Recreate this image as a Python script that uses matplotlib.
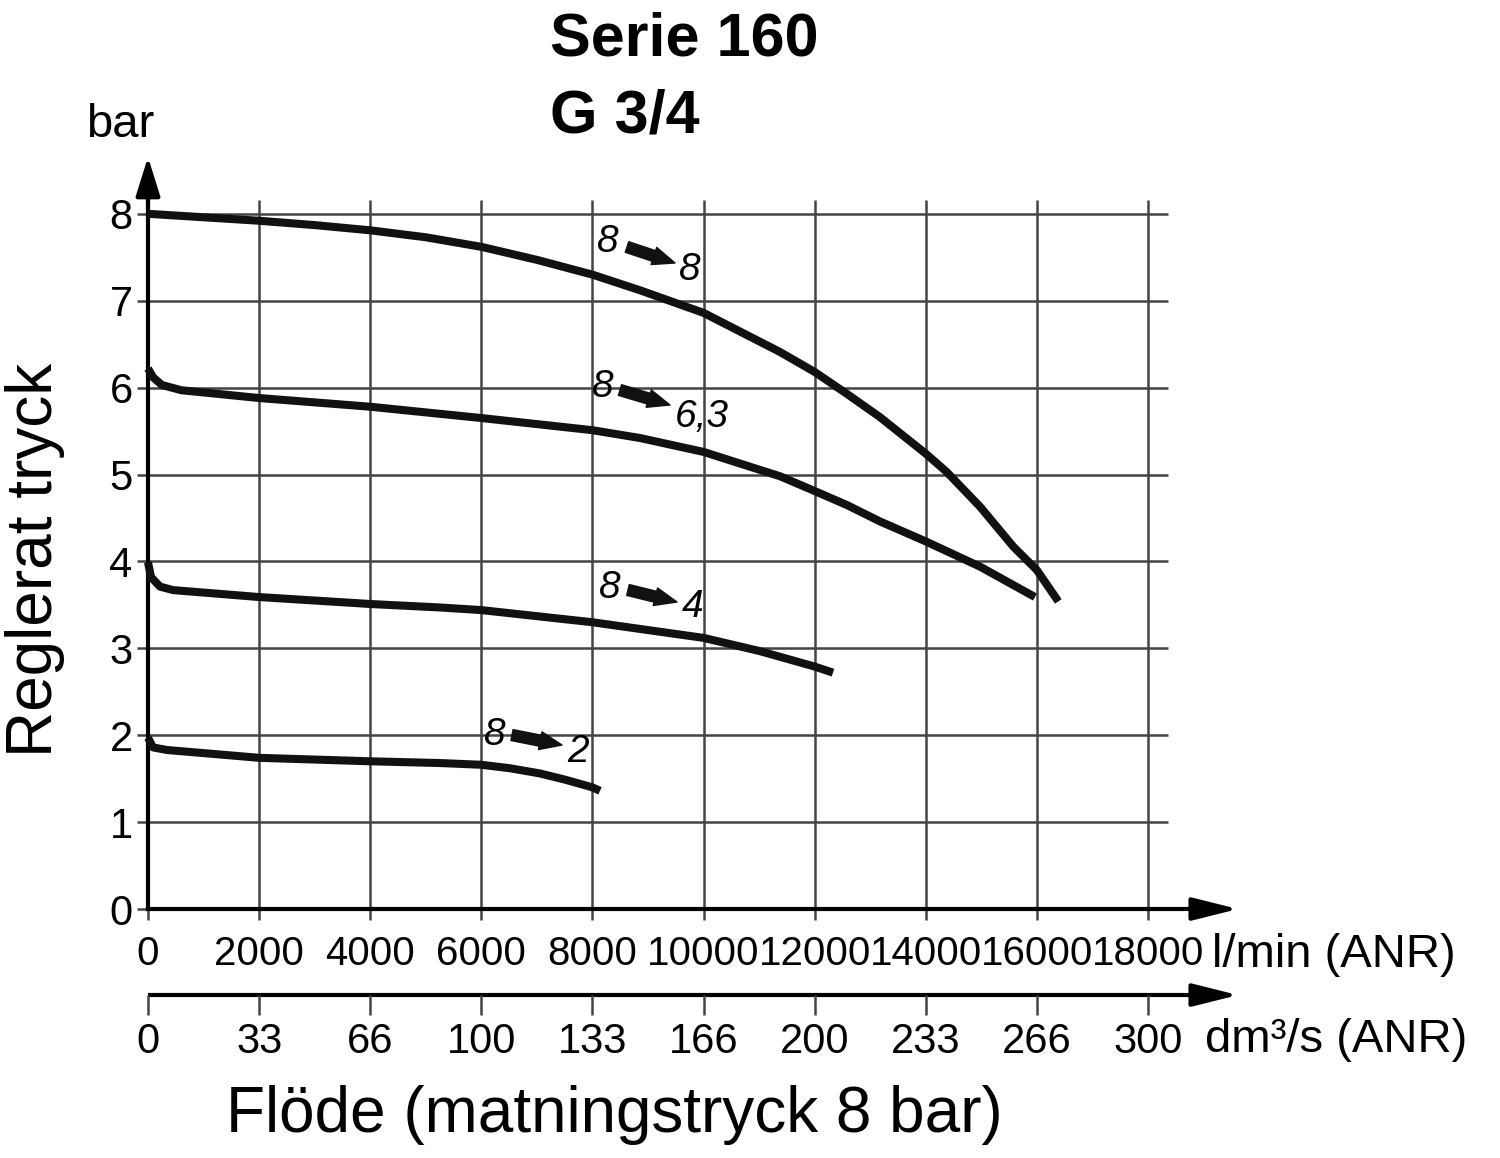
import matplotlib.pyplot as plt

plt.rcParams['font.family'] = ['Liberation Sans', 'DejaVu Sans']

# axes ticks
flow_lmin = [0, 2000, 4000, 6000, 8000, 10000, 12000, 14000, 16000, 18000]
flow_dm3s = ['0', '33', '66', '100', '133', '166', '200', '233', '266', '300']
pressure_ticks = [0, 1, 2, 3, 4, 5, 6, 7, 8]

# curves (flow l/min, regulated pressure bar)
flow_8_8 = [0, 500, 2000, 3000, 4000, 5000, 6000, 7000, 8000, 8856, 10000, 11376, 12000,
            12576, 13176, 14000, 14376, 14976, 15576, 16000, 16386]
pres_8_8 = [8.0, 7.98, 7.92, 7.87, 7.81, 7.73, 7.62, 7.47, 7.30, 7.12, 6.86, 6.41, 6.18,
            5.93, 5.66, 5.24, 5.03, 4.63, 4.17, 3.90, 3.54]

flow_8_63 = [0, 90, 250, 600, 2000, 4000, 6000, 8000, 8856, 10000, 11376, 12000,
             12576, 13176, 14000, 14976, 15966]
pres_8_63 = [6.22, 6.12, 6.03, 5.97, 5.88, 5.78, 5.65, 5.51, 5.42, 5.26, 4.98, 4.81,
             4.65, 4.46, 4.23, 3.94, 3.59]

flow_8_4 = [0, 54, 216, 450, 2000, 4000, 5256, 6000, 8000, 10000, 11000, 12000, 12330]
pres_8_4 = [3.99, 3.82, 3.71, 3.67, 3.59, 3.51, 3.47, 3.44, 3.30, 3.12, 2.97, 2.79, 2.72]

flow_8_2 = [0, 90, 340, 2000, 4000, 5256, 6000, 6516, 7056, 7500, 8000, 8136]
pres_8_2 = [1.97, 1.86, 1.83, 1.74, 1.70, 1.68, 1.66, 1.62, 1.56, 1.49, 1.40, 1.36]

curves = [(flow_8_8, pres_8_8), (flow_8_63, pres_8_63), (flow_8_4, pres_8_4), (flow_8_2, pres_8_2)]

# curve labels: inlet text, outlet text, inlet pos, outlet pos, arrow start, arrow end
curve_labels = [
    ('8', '8', (8280, 7.675), (9756, 7.353), (8622, 7.618), (9486, 7.434)),
    ('8', '6,3', (8190, 6.007), (9972, 5.662), (8496, 5.972), (9396, 5.800)),
    ('8', '4', (8316, 3.694), (9810, 3.475), (8640, 3.671), (9522, 3.533)),
    ('8', '2', (6246, 2.002), (7740, 1.807), (6552, 2.002), (7452, 1.887)),
]

fig = plt.figure(figsize=(15, 11.58), dpi=100)
ax = fig.add_axes([100 / 1500, 128 / 1158, 1200 / 1500, 850 / 1158])
ax.set_xlim(-864, 20736)
ax.set_ylim(-1.392, 8.389)

for s in ['top', 'right']:
    ax.spines[s].set_visible(False)
ax.spines['left'].set_position(('data', 0))
ax.spines['bottom'].set_position(('data', 0))
ax.spines['left'].set_bounds(0, 8.3)
ax.spines['bottom'].set_bounds(0, 19200)
ax.spines['left'].set_linewidth(3)
ax.spines['bottom'].set_linewidth(3)

grid_c = '#444444'
ax.hlines(pressure_ticks[1:], 0, 18360, color=grid_c, lw=1.8, zorder=1)
ax.vlines(flow_lmin[1:], 0, 8.16, color=grid_c, lw=1.8, zorder=1)

ax.set_xticks(flow_lmin, labels=[str(v) for v in flow_lmin])
ax.set_yticks(pressure_ticks, labels=[str(v) for v in pressure_ticks])
ax.tick_params(axis='x', direction='out', length=8, width=1.8, color=grid_c,
               labelsize=29, pad=11)
ax.tick_params(axis='y', direction='out', length=8, width=1.8, color=grid_c,
               labelsize=30, pad=3)

# axis arrows
arrow_kw = dict(arrowstyle='-|>,head_length=2.8,head_width=0.7', color='k', lw=3,
                mutation_scale=10, shrinkA=0, shrinkB=0)
ax.annotate('', xy=(19620, 0), xytext=(18800, 0), arrowprops=arrow_kw, annotation_clip=False)
ax.annotate('', xy=(0, 8.654), xytext=(0, 8.1),
            arrowprops=dict(arrow_kw, arrowstyle='-|>,head_length=2.4,head_width=0.75'),
            annotation_clip=False)

# second flow axis in dm3/s
y2 = -0.99
ax.plot([0, 19200], [y2, y2], color='k', lw=3, solid_capstyle='butt')
ax.annotate('', xy=(19620, y2), xytext=(18800, y2), arrowprops=arrow_kw, annotation_clip=False)
ax.vlines(flow_lmin, y2, y2 - 0.23, color=grid_c, lw=1.8)
for xv, lab in zip(flow_lmin, flow_dm3s):
    ax.text(xv, -1.53, lab, ha='center', va='center', fontsize=30, clip_on=False)

ax.text(19152, -0.53, 'l/min (ANR)', ha='left', va='center', fontsize=34)
ax.text(19026, -1.51, 'dm³/s (ANR)', ha='left', va='center', fontsize=34)

# curves
for fx, py in curves:
    ax.plot(fx, py, color='#111111', lw=5.8, solid_capstyle='butt',
            solid_joinstyle='round', zorder=3)

for t1, t2, p1, p2, a1, a2 in curve_labels:
    ax.text(p1[0], p1[1], t1, ha='center', va='center', fontsize=28, style='italic', zorder=4)
    ax.text(p2[0], p2[1], t2, ha='center', va='center', fontsize=28, style='italic', zorder=4)
    ax.annotate('', xy=a2, xytext=a1,
                arrowprops=dict(arrowstyle='simple,head_length=1.6,head_width=1.3,tail_width=0.8',
                                color='#111111', mutation_scale=10, shrinkA=0, shrinkB=0))

# texts
fig.text(550 / 1500, 1 - 40 / 1158, 'Serie 160', ha='left', va='center', fontsize=44, weight='bold')
fig.text(550 / 1500, 1 - 117 / 1158, 'G 3/4', ha='left', va='center', fontsize=44, weight='bold')
fig.text(120 / 1500, 1 - 125 / 1158, 'bar', ha='center', va='center', fontsize=34)
fig.text(35 / 1500, 1 - 560 / 1158, 'Reglerat tryck', ha='center', va='center', fontsize=46, rotation=90)
fig.text(614 / 1500, 1 - 1115 / 1158, 'Flöde (matningstryck 8 bar)', ha='center', va='center', fontsize=46)

fig.savefig('out.png', dpi=100)
